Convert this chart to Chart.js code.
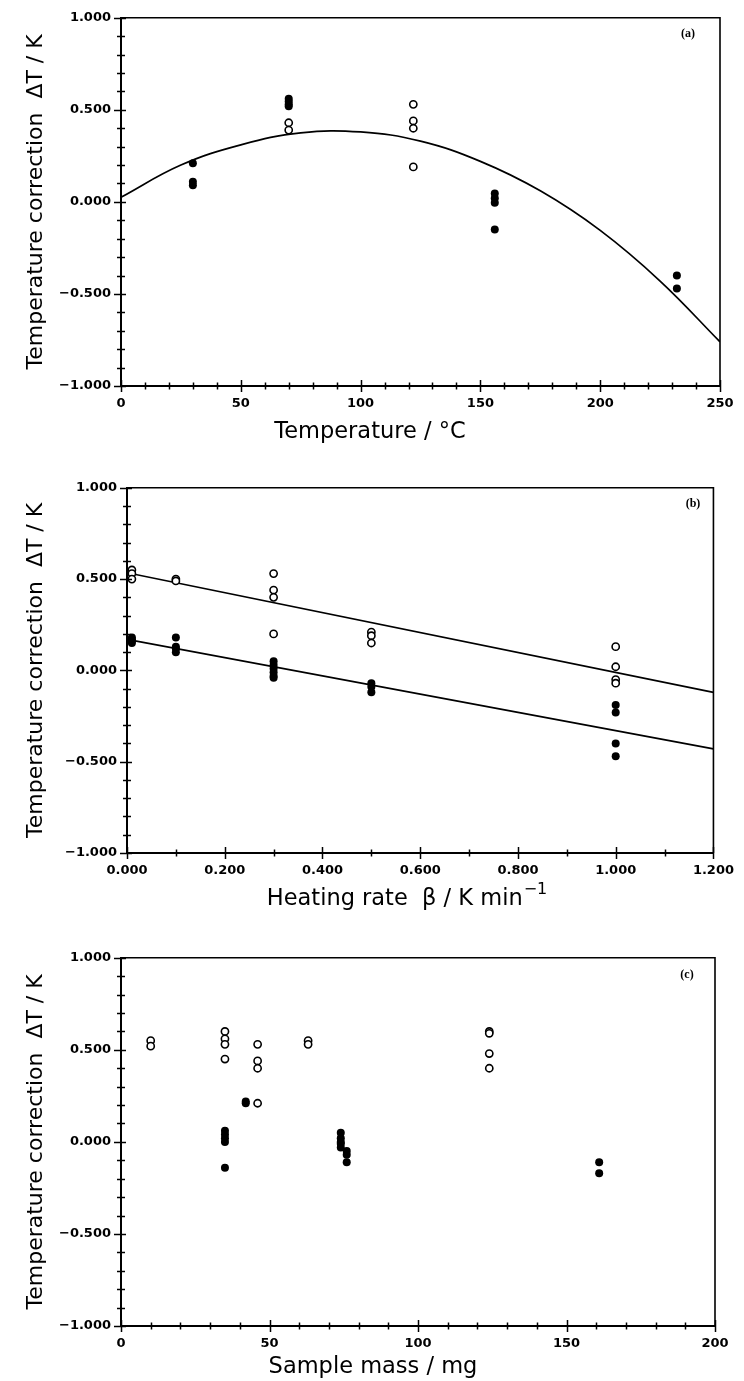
<!DOCTYPE html>
<html><head><meta charset="utf-8">
<script src="https://cdn.jsdelivr.net/npm/chart.js@4.4.0/dist/chart.umd.min.js"></script>
<style>
html,body{margin:0;padding:0;background:#fff;}
body{width:744px;height:1381px;position:relative;overflow:hidden;}
.panel{position:absolute;left:0;width:744px;}
canvas{display:block;}
</style></head><body>
<div class="panel" style="top:0;height:470px"><canvas id="ca" width="744" height="470"></canvas></div>
<div class="panel" style="top:470px;height:470px"><canvas id="cb" width="744" height="470"></canvas></div>
<div class="panel" style="top:940px;height:441px"><canvas id="cc" width="744" height="441"></canvas></div>
<script>
// ---------- tick labels ----------
const yTickValues = [-1, -0.5, 0, 0.5, 1];
const aXTickValues = [0, 50, 100, 150, 200, 250];
const bXTickValues = [0, 0.2, 0.4, 0.6, 0.8, 1.0, 1.2];
const cXTickValues = [0, 50, 100, 150, 200];

// ---------- panel (a): temperature ----------
const aOpenX = [70, 70, 122, 122, 122, 122];
const aOpenY = [0.43, 0.39, 0.53, 0.44, 0.40, 0.19];
const aFilledX = [30, 30, 30, 70, 70, 70, 70, 156, 156, 156, 156, 232, 232];
const aFilledY = [0.21, 0.11, 0.09, 0.56, 0.545, 0.53, 0.52, 0.045, 0.02, -0.005, -0.15, -0.40, -0.47];
const aCurveX = [0, 25, 50, 75, 100, 125, 150, 175, 200, 225, 250];
const aCurveY = [0.025, 0.20, 0.31, 0.375, 0.38, 0.33, 0.22, 0.06, -0.155, -0.43, -0.76];

// ---------- panel (b): heating rate ----------
const bOpenX = [0.01, 0.01, 0.01, 0.1, 0.1, 0.3, 0.3, 0.3, 0.3, 0.5, 0.5, 0.5, 1.0, 1.0, 1.0, 1.0];
const bOpenY = [0.55, 0.53, 0.50, 0.50, 0.49, 0.53, 0.44, 0.40, 0.20, 0.21, 0.19, 0.15, 0.13, 0.02, -0.05, -0.07];
const bFilledX = [0.01, 0.01, 0.01, 0.01, 0.1, 0.1, 0.1, 0.1, 0.3, 0.3, 0.3, 0.3, 0.3, 0.3, 0.5, 0.5, 0.5, 1.0, 1.0, 1.0, 1.0];
const bFilledY = [0.18, 0.17, 0.16, 0.15, 0.18, 0.13, 0.12, 0.10, 0.05, 0.03, 0.01, -0.01, -0.03, -0.04, -0.07, -0.09, -0.12, -0.19, -0.23, -0.40, -0.47];
const bUpperX = [0, 1.2];
const bUpperY = [0.535, -0.12];
const bLowerX = [0, 1.2];
const bLowerY = [0.17, -0.43];

// ---------- panel (c): sample mass ----------
const cOpenX = [10, 10, 35, 35, 35, 35, 46, 46, 46, 46, 63, 63, 124, 124, 124, 124];
const cOpenY = [0.55, 0.52, 0.60, 0.56, 0.53, 0.45, 0.53, 0.44, 0.40, 0.21, 0.55, 0.53, 0.60, 0.59, 0.48, 0.40];
const cFilledX = [35, 35, 35, 35, 35, 42, 42, 74, 74, 74, 74, 74, 76, 76, 76, 161, 161];
const cFilledY = [0.06, 0.04, 0.02, 0.00, -0.14, 0.22, 0.21, 0.05, 0.02, 0.00, -0.01, -0.03, -0.05, -0.07, -0.11, -0.11, -0.17];

// ---------- text ----------
const yTitle = 'Temperature correction  \u0394T / K';
const aXTitle = 'Temperature / \u00B0C';
const bXTitle = 'Heating rate  \u03B2 / K min\u207B\u00B9';
const cXTitle = 'Sample mass / mg';

function pts(xs, ys) { return xs.map((x, i) => ({ x: x, y: ys[i] })); }
function fmt(v, d) { return v.toFixed(d).replace('-', '\u2212'); }

const TITLE_FONT = '22.5px "DejaVu Sans", sans-serif';
const SUP_FONT = '16px "DejaVu Sans", sans-serif';

const axisDecor = {
  id: 'axisDecor',
  afterDraw(chart, args, o) {
    const { ctx, chartArea: ca, scales } = chart;
    const sx = scales.x, sy = scales.y;
    ctx.save();
    ctx.strokeStyle = '#000';
    ctx.lineCap = 'butt';
    ctx.lineWidth = 1.6;
    ctx.beginPath();
    ctx.moveTo(ca.left, ca.top); ctx.lineTo(ca.right, ca.top); ctx.lineTo(ca.right, ca.bottom);
    ctx.stroke();
    ctx.lineWidth = 1.5;
    // y ticks
    let n = Math.round((sy.max - sy.min) / o.yMinor);
    for (let i = 0; i <= n; i++) {
      const v = sy.min + i * o.yMinor;
      const r = v / o.yMajor;
      const major = Math.abs(r - Math.round(r)) < 1e-6;
      const p = Math.round(sy.getPixelForValue(v)) + 0.5;
      ctx.beginPath();
      ctx.moveTo(ca.left - (major ? 7 : 4), p);
      ctx.lineTo(ca.left + (major ? 5 : 4), p);
      ctx.stroke();
    }
    // x ticks
    n = Math.round((sx.max - sx.min) / o.xMinor);
    for (let i = 0; i <= n; i++) {
      const v = sx.min + i * o.xMinor;
      const r = v / o.xMajor;
      const major = Math.abs(r - Math.round(r)) < 1e-6;
      const p = Math.round(sx.getPixelForValue(v)) + 0.5;
      ctx.beginPath();
      ctx.moveTo(p, ca.bottom - (major ? 6 : 3.5));
      ctx.lineTo(p, ca.bottom + (major ? 6 : 3.5));
      ctx.stroke();
    }
    // panel label
    ctx.fillStyle = '#000';
    ctx.font = 'bold 12px "Liberation Serif", "DejaVu Serif", serif';
    ctx.textAlign = 'center';
    ctx.textBaseline = 'middle';
    ctx.fillText(o.label, o.labelX, o.labelY);
    // x axis title (text taken from the scale's title option)
    const t = sx.options.title.text;
    ctx.font = TITLE_FONT;
    ctx.textBaseline = 'alphabetic';
    const supIdx = t.indexOf('\u207B\u00B9');
    if (supIdx >= 0) {
      const base = t.slice(0, supIdx);
      const sup = '\u22121';
      const bw = ctx.measureText(base).width;
      ctx.font = SUP_FONT;
      const sw = ctx.measureText(sup).width;
      const x0 = o.titleX - (bw + sw + 1) / 2;
      ctx.textAlign = 'left';
      ctx.font = TITLE_FONT;
      ctx.fillText(base, x0, o.titleY + 8);
      ctx.font = SUP_FONT;
      ctx.fillText(sup, x0 + bw + 1, o.titleY - 3);
    } else {
      ctx.textAlign = 'center';
      ctx.fillText(t, o.titleX, o.titleY + 8);
    }
    ctx.restore();
  }
};

function makeChart(id, cfg) {
  const tickFont = { family: 'DejaVu Sans', size: 13, weight: 'bold' };
  return new Chart(document.getElementById(id), {
    type: 'scatter',
    data: {
      datasets: [
        ...cfg.lines.map(l => ({
          data: l, showLine: true, pointRadius: 0, borderColor: '#000', borderWidth: 1.7,
          tension: cfg.tension, fill: false, order: 3
        })),
        { data: cfg.open, pointRadius: 3.6, pointBorderWidth: 1.6, pointBackgroundColor: '#fff',
          pointBorderColor: '#000', backgroundColor: '#fff', borderColor: '#000', showLine: false, order: 1 },
        { data: cfg.filled, pointRadius: 4, pointBorderWidth: 0, pointBackgroundColor: '#000',
          pointBorderColor: '#000', backgroundColor: '#000', borderColor: '#000', showLine: false, order: 0 }
      ]
    },
    options: {
      responsive: false, animation: false, events: [],
      layout: { padding: { top: cfg.top, right: cfg.right, left: 0, bottom: 0 } },
      plugins: {
        legend: { display: false }, tooltip: { enabled: false },
        axisDecor: cfg.decor
      },
      scales: {
        x: {
          type: 'linear', min: cfg.xMin, max: cfg.xMax,
          afterBuildTicks: s => { s.ticks = cfg.xTicks.map(v => ({ value: v })); },
          afterFit: s => { s.height = cfg.xHeight; },
          grid: { display: false, drawTicks: false },
          border: { display: true, color: '#000', width: 2 },
          ticks: { color: '#000', font: tickFont, padding: 10, maxRotation: 0, autoSkip: false,
                   callback: v => cfg.xFmt(v) },
          title: { display: false, text: cfg.xTitle }
        },
        y: {
          type: 'linear', min: -1, max: 1,
          afterBuildTicks: s => { s.ticks = yTickValues.map(v => ({ value: v })); },
          afterFit: s => { s.width = cfg.left; },
          grid: { display: false, drawTicks: false },
          border: { display: true, color: '#000', width: 2 },
          ticks: { color: '#000', font: tickFont, padding: 10, autoSkip: false, callback: v => fmt(v, 3) },
          title: { display: true, text: yTitle, color: '#000',
                   font: { family: 'DejaVu Sans', size: 22 }, padding: { top: 23, bottom: 0 } }
        }
      }
    },
    plugins: [axisDecor]
  });
}

makeChart('ca', {
  open: pts(aOpenX, aOpenY), filled: pts(aFilledX, aFilledY), lines: [pts(aCurveX, aCurveY)], tension: 0.4,
  xMin: 0, xMax: 250, xTicks: aXTickValues, xFmt: v => String(v), xTitle: aXTitle,
  top: 15, right: 24, left: 121, xHeight: 84,
  decor: { xMinor: 10, xMajor: 50, yMinor: 0.1, yMajor: 0.5, label: '(a)', labelX: 688, labelY: 34, titleX: 370, titleY: 430 }
});
makeChart('cb', {
  open: pts(bOpenX, bOpenY), filled: pts(bFilledX, bFilledY), lines: [pts(bUpperX, bUpperY), pts(bLowerX, bLowerY)], tension: 0,
  xMin: 0, xMax: 1.2, xTicks: bXTickValues, xFmt: v => fmt(v, 3), xTitle: bXTitle,
  top: 17, right: 22, left: 127, xHeight: 87,
  decor: { xMinor: 0.1, xMajor: 0.2, yMinor: 0.1, yMajor: 0.5, label: '(b)', labelX: 693, labelY: 34, titleX: 407, titleY: 427 }
});
makeChart('cc', {
  open: pts(cOpenX, cOpenY), filled: pts(cFilledX, cFilledY), lines: [], tension: 0,
  xMin: 0, xMax: 200, xTicks: cXTickValues, xFmt: v => String(v), xTitle: cXTitle,
  top: 16, right: 29, left: 121, xHeight: 55,
  decor: { xMinor: 10, xMajor: 50, yMinor: 0.1, yMajor: 0.5, label: '(c)', labelX: 687, labelY: 35, titleX: 373, titleY: 425 }
});
</script>
</body></html>
